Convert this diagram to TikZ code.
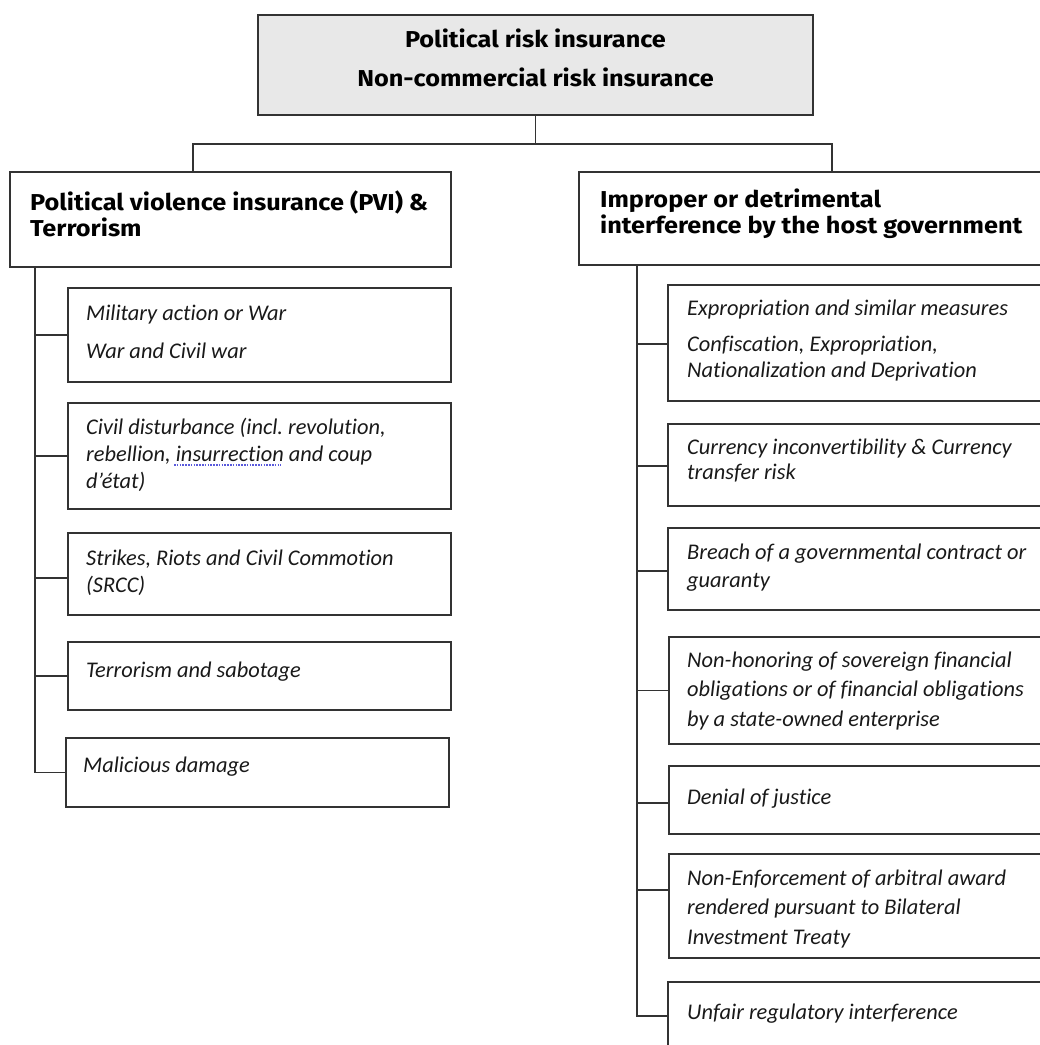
\documentclass[tikz,border=0pt]{standalone}
\usepackage{fontspec}
\setmainfont{Carlito}[Ligatures=NoCommon]
\newfontfamily\hdfont{Fira Sans}[FakeStretch=1.1]
\definecolor{lnc}{HTML}{333333}
\definecolor{topfill}{HTML}{E8E8E8}
\definecolor{spell}{RGB}{90,90,220}
\begin{document}
\begin{tikzpicture}[x=1pt,y=-1pt,
  box/.style={draw=lnc, line width=1.2pt, rectangle, inner sep=0pt, outer sep=0pt, anchor=north west},
  ln/.style={draw=lnc, line width=1.2pt},
  ttl/.style={anchor=base, font=\hdfont\fontsize{23}{27}\selectfont\bfseries, inner sep=0pt, text=black},
  hd/.style={anchor=base west, font=\hdfont\fontsize{23}{27}\selectfont\bfseries, inner sep=0pt, text=black},
  itx/.style={anchor=base west, font=\fontsize{22.4}{26}\selectfont\itshape, inner sep=0pt, text=black!90}]
\useasboundingbox (0,0) rectangle (1040,1045);
\clip (0,0) rectangle (1040,1045);
% top
\node[box, fill=topfill, minimum width=555pt, minimum height=100pt] (top) at (258,15) {};
\node[ttl] (t1) at (535.5,47) {Political risk insurance};
\node[ttl] (t2) at (535.5,86) {Non-commercial risk insurance};
% headers
\node[box, minimum width=441pt, minimum height=95pt] (lh) at (10,172) {};
\node[hd] (lh1) at (30,210) {Political violence insurance (PVI) \&};
\node[hd] (lh2) at (30,236) {Terrorism};
\node[box, minimum width=480pt, minimum height=93pt] (rh) at (579,172) {};
\node[hd] (rh1) at (600,207) {Improper or detrimental};
\node[hd] (rh2) at (600,233) {interference by the host government};
% connectors top
\coordinate (bl) at (193,144);
\coordinate (br) at (832,144);
\draw[ln] (top.south) -- (top.south |- bl);
\draw[ln] (lh.north -| bl) -- (bl) -- (br) -- (rh.north -| br);
% left children
\node[box, minimum width=383pt, minimum height=94pt] (l1) at (68,288) {};
\node[box, minimum width=383pt, minimum height=106pt] (l2) at (68,403) {};
\node[box, minimum width=383pt, minimum height=82pt] (l3) at (68,533) {};
\node[box, minimum width=383pt, minimum height=68pt] (l4) at (68,642) {};
\node[box, minimum width=383pt, minimum height=69pt] (l5) at (66,738) {};
\node[itx] (l1a) at (86,320) {Military action or War};
\node[itx] (l1b) at (86,358) {War and Civil war};
\node[itx] (l2a) at (86,434) {Civil disturbance (incl.\ revolution,};
\node[itx] (l2b) at (86,461) {rebellion, insurrection and coup};
\node[itx] (l2c) at (86,488) {d’état)};
\node[itx] (l3a) at (86,565) {Strikes, Riots and Civil Commotion};
\node[itx] (l3b) at (86,592) {(SRCC)};
\node[itx] (l4a) at (86,677) {Terrorism and sabotage};
\node[itx] (l5a) at (83,772) {Malicious damage};
\draw[spell, line width=1.3pt, dash pattern=on 1.6pt off 1.2pt] (174,465) -- (281,465);
\coordinate (lt) at (35,0);
\draw[ln] (lt |- lh.south) -- (lt |- l5.west) -- (l5.west);
\draw[ln] (lt |- l1.west) -- (l1.west);
\draw[ln] (lt |- l2.west) -- (l2.west);
\draw[ln] ([yshift=-4pt]l3.west -| lt) -- ([yshift=-4pt]l3.west);
\draw[ln] (lt |- l4.west) -- (l4.west);
% right children
\node[box, minimum width=400pt, minimum height=116pt] (r1) at (668,285) {};
\node[box, minimum width=400pt, minimum height=82pt] (r2) at (668,424) {};
\node[box, minimum width=400pt, minimum height=82pt] (r3) at (668,528) {};
\node[box, minimum width=400pt, minimum height=107pt] (r4) at (669,637) {};
\node[box, minimum width=400pt, minimum height=68pt] (r5) at (669,766) {};
\node[box, minimum width=400pt, minimum height=104pt] (r6) at (669,854) {};
\node[box, minimum width=400pt, minimum height=68pt] (r7) at (668,982) {};
\node[itx] (r1a) at (687,315) {Expropriation and similar measures};
\node[itx] (r1b) at (687,351) {Confiscation, Expropriation,};
\node[itx] (r1c) at (687,377) {Nationalization and Deprivation};
\node[itx] (r2a) at (687,454) {Currency inconvertibility \& Currency};
\node[itx] (r2b) at (687,479) {transfer risk};
\node[itx] (r3a) at (687,559) {Breach of a governmental contract or};
\node[itx] (r3b) at (687,587) {guaranty};
\node[itx] (r4a) at (687,667) {Non-honoring of sovereign financial};
\node[itx] (r4b) at (687,696) {obligations or of financial obligations};
\node[itx] (r4c) at (687,726) {by a state-owned enterprise};
\node[itx] (r5a) at (687,804) {Denial of justice};
\node[itx] (r6a) at (687,885) {Non-Enforcement of arbitral award};
\node[itx] (r6b) at (687,914) {rendered pursuant to Bilateral};
\node[itx] (r6c) at (687,944) {Investment Treaty};
\node[itx] (r7a) at (687,1019) {Unfair regulatory interference};
\coordinate (rt) at (637,0);
\draw[ln] (rt |- rh.south) -- (rt |- r7.west) -- (r7.west);
\draw[ln] ([yshift=-1pt]r1.west -| rt) -- ([yshift=-1pt]r1.west);
\draw[ln] ([yshift=-1pt]r2.west -| rt) -- ([yshift=-1pt]r2.west);
\draw[ln] ([yshift=-2pt]r3.west -| rt) -- ([yshift=-2pt]r3.west);
\draw[ln] (rt |- r4.west) -- (r4.west);
\draw[ln] ([yshift=-3pt]r5.west -| rt) -- ([yshift=-3pt]r5.west);
\draw[ln] ([yshift=16pt]r6.west -| rt) -- ([yshift=16pt]r6.west);
\end{tikzpicture}
\end{document}
